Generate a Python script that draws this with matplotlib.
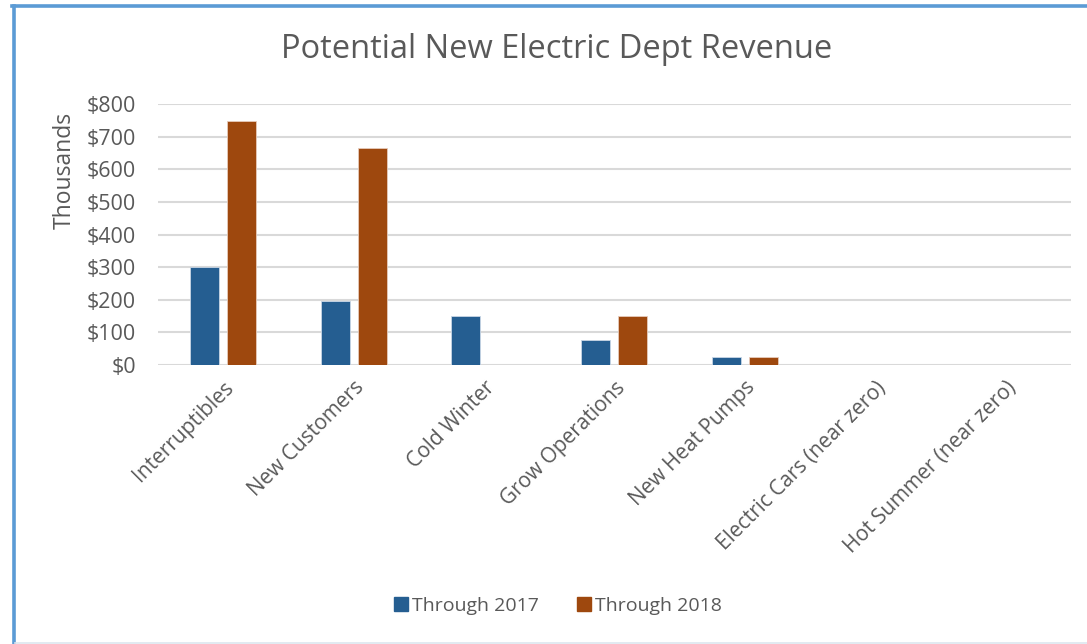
import matplotlib
matplotlib.use("Agg")
import matplotlib.pyplot as plt
import numpy as np
from matplotlib.lines import Line2D

categories = ["Interruptibles", "New Customers", "Cold Winter", "Grow Operations",
              "New Heat Pumps", "Electric Cars (near zero)", "Hot Summer (near zero)"]
through_2017 = [300, 195, 150, 75, 25, 0, 0]
through_2018 = [750, 665, 0, 150, 25, 0, 0]
yticks = [0, 100, 200, 300, 400, 500, 600, 700, 800]

BLUE = "#255E91"
ORANGE = "#9E480E"
TEXT = "#595959"
GRID = "#d9d9d9"

plt.rcParams["font.family"] = ["Open Sans", "DejaVu Sans"]

fig = plt.figure(figsize=(10.87, 6.44), dpi=100)
ax = fig.add_axes([0.1454, 0.4337, 0.8396, 0.4043])

x = np.arange(len(categories))
w = 0.223
off = 0.142
ax.bar(x - off, through_2017, w, color=BLUE, edgecolor="#c9d6e6", linewidth=0.6, zorder=3,
       label="Through 2017")
ax.bar(x + off, through_2018, w, color=ORANGE, edgecolor="#e6cbbb", linewidth=0.6, zorder=3,
       label="Through 2018")

ax.set_xlim(-0.5, len(categories) - 0.5)
ax.set_ylim(0, 800)
ax.set_yticks(yticks)
ax.set_yticklabels([f"${v}" for v in yticks])
ax.grid(axis="y", color=GRID, lw=1.5, zorder=0)
ax.set_axisbelow(True)
for s in ax.spines.values():
    s.set_visible(False)
ax.tick_params(axis="y", length=0, pad=16, labelsize=15.5, labelcolor=TEXT)
ax.tick_params(axis="x", length=0, pad=9, labelsize=15, labelcolor=TEXT)
ax.set_xticks(x)
ax.set_xticklabels(categories, rotation=45, ha="right", rotation_mode="anchor")

fig.text(0.0598, 0.736, "Thousands", rotation=90, ha="center", va="center",
         fontsize=16.5, color=TEXT)
fig.text(0.512, 0.923, "Potential New Electric Dept Revenue", ha="center", va="center",
         fontsize=23.5, color=TEXT)

handles = [Line2D([], [], marker="s", ls="", color=BLUE, markersize=10),
           Line2D([], [], marker="s", ls="", color=ORANGE, markersize=10)]
fig.legend(handles, ["Through 2017", "Through 2018"], loc="center",
           bbox_to_anchor=(0.512, 0.059), ncol=2, frameon=False, fontsize=14,
           labelcolor=TEXT, handletextpad=0.1, columnspacing=1.8, handlelength=1.0)

# outer chart frame (left and top in blue, faint bottom edge)
fig.add_artist(Line2D([13.5 / 1087, 13.5 / 1087], [0, 1 - 5.5 / 644],
                      transform=fig.transFigure, color="#5b9bd5", lw=2.6))
fig.add_artist(Line2D([12 / 1087, 1.0], [1 - 5.5 / 644, 1 - 5.5 / 644],
                      transform=fig.transFigure, color="#5b9bd5", lw=2.6))
fig.add_artist(Line2D([15 / 1087, 1.0], [0.8 / 644, 0.8 / 644],
                      transform=fig.transFigure, color="#dde6ef", lw=1.2))

fig.savefig("out.png", dpi=100)
